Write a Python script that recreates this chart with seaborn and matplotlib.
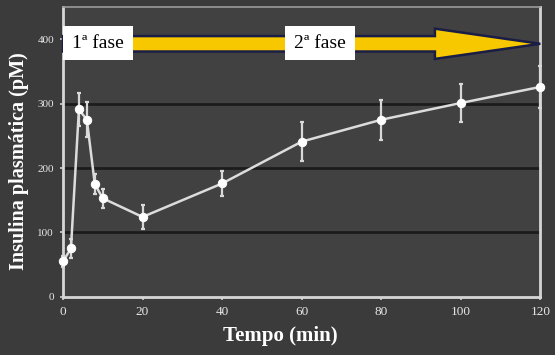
import matplotlib
matplotlib.use("Agg")
import matplotlib.pyplot as plt
import seaborn as sns
import pandas as pd
from matplotlib.patches import FancyArrow

# Data
tempo = [0, 2, 4, 6, 8, 10, 20, 40, 60, 80, 100, 120]
insulina = [55, 75, 291, 275, 175, 153, 124, 176, 241, 275, 301, 326]
erro = [8, 14, 26, 27, 15, 15, 18, 20, 30, 31, 30, 32]
x_ticks = [0, 20, 40, 60, 80, 100, 120]
y_ticks = [0, 100, 200, 300, 400]
fase_labels = ["1ª fase", "2ª fase"]
fase_x = [8.8, 64.6]

df = pd.DataFrame({"Tempo": tempo, "Insulina": insulina, "Erro": erro})

sns.set_theme(style="dark")
bg = "#3b3b3b"
face = "#414141"
fig = plt.figure(figsize=(5.55, 3.55), dpi=100, facecolor=bg)
ax = fig.add_axes([0.1135, 0.164, 0.86, 0.816])
ax.set_facecolor(face)

for yv in [100, 200, 300]:
    ax.axhline(yv, color="#1c1c1c", lw=2, zorder=1)

ax.errorbar(df["Tempo"], df["Insulina"], yerr=df["Erro"], fmt="none",
            ecolor="#d8d8d8", elinewidth=1.6, capsize=1.6, capthick=1.6,
            zorder=3, clip_on=False)
sns.lineplot(data=df, x="Tempo", y="Insulina", ax=ax, color="#dcdcdc",
             lw=1.8, marker="o", markersize=6, markerfacecolor="white",
             markeredgecolor="white", zorder=4, clip_on=False)

# Arrow
arrow = FancyArrow(0, 393, 120, 0, width=24, head_width=47, head_length=26.5,
                   length_includes_head=True, facecolor="#f7c800",
                   edgecolor="#1a1d45", lw=1.8, zorder=5, clip_on=False)
ax.add_patch(arrow)

for lab, xv in zip(fase_labels, fase_x):
    ax.text(xv, 394, lab, ha="center", va="center", fontsize=14,
            family="Liberation Serif", color="black", zorder=6,
            bbox=dict(boxstyle="square,pad=0.45", fc="white", ec="none"))

ax.set_xlim(0, 120)
ax.set_ylim(0, 450)
ax.set_xticks(x_ticks)
ax.set_yticks(y_ticks)
ax.set_xticklabels([str(v) for v in x_ticks], fontsize=9.5,
                   family="Liberation Serif", color="#e6e6e6")
ax.set_yticklabels([str(v) for v in y_ticks], fontsize=8,
                   family="Liberation Serif", color="#e6e6e6")
ax.tick_params(axis="both", length=2.5, width=1.2, color="#cfcfcf", pad=4,
               direction="out", bottom=True, left=True)
ax.set_xlabel("Tempo (min)", fontsize=15, fontweight="bold",
              family="Liberation Serif", color="white")
ax.set_ylabel("Insulina plasmática (pM)", fontsize=14.5, fontweight="bold",
              family="Liberation Serif", color="white")
ax.xaxis.set_label_coords(0.455, -0.10)
ax.yaxis.set_label_coords(-0.072, 0.47)
ax.grid(False)

for side in ["left", "bottom", "right"]:
    ax.spines[side].set_color("#d6d6d6")
    ax.spines[side].set_linewidth(2)
    ax.spines[side].set_visible(True)
ax.spines["top"].set_color("#9a9a9a")
ax.spines["top"].set_linewidth(1.2)
ax.spines["top"].set_visible(True)

fig.savefig("out.png", dpi=100, facecolor=bg)
